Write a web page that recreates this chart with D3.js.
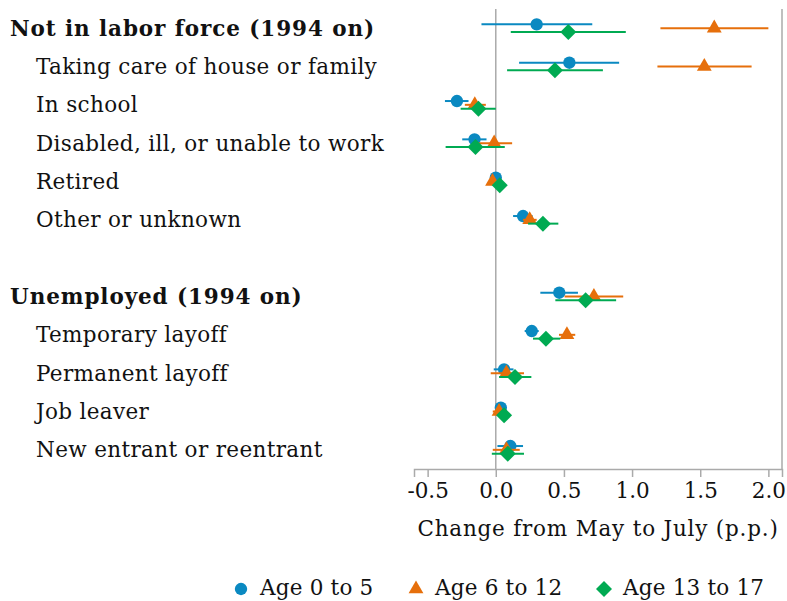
<!DOCTYPE html>
<html>
<head>
<meta charset="utf-8">
<script src="https://cdn.jsdelivr.net/npm/d3@7"></script>
<style>
	body { margin: 0; background: #fff; }
	text { font-family: "DejaVu Serif", "Liberation Serif", serif; fill: #111; }
</style>
</head>
<body>
<script>
// rows, top to bottom (blank row = gap)
const rowLabels = [
	"Not in labor force (1994 on)",
	"Taking care of house or family",
	"In school",
	"Disabled, ill, or unable to work",
	"Retired",
	"Other or unknown",
	"",
	"Unemployed (1994 on)",
	"Temporary layoff",
	"Permanent layoff",
	"Job leaver",
	"New entrant or reentrant"
];
const headerRows = [0, 7];

const groups = ["Age 0 to 5", "Age 6 to 12", "Age 13 to 17"];

// estimates and 95% intervals, percentage points
const est0to5 = [0.30, 0.54, -0.285, -0.156, 0.0, 0.20, null, 0.466, 0.264, 0.061, 0.037, 0.107];
const lo0to5  = [-0.105, 0.171, -0.373, -0.246, -0.01, 0.127, null, 0.327, 0.212, -0.015, 0.02, 0.012];
const hi0to5  = [0.708, 0.905, -0.20, -0.068, 0.01, 0.27, null, 0.603, 0.315, 0.13, 0.055, 0.20];

const est6to12 = [1.603, 1.53, -0.154, -0.012, -0.024, 0.249, null, 0.72, 0.522, 0.078, 0.024, 0.078];
const lo6to12  = [1.208, 1.186, -0.227, -0.13, -0.035, 0.20, null, 0.505, 0.464, -0.037, -0.022, -0.022];
const hi6to12  = [2.0, 1.877, -0.073, 0.12, -0.012, 0.30, null, 0.935, 0.583, 0.207, 0.078, 0.176];

const est13to17 = [0.532, 0.434, -0.127, -0.149, 0.029, 0.346, null, 0.659, 0.368, 0.141, 0.061, 0.088];
const lo13to17  = [0.11, 0.083, -0.258, -0.368, 0.018, 0.237, null, 0.437, 0.273, 0.024, 0.04, -0.029];
const hi13to17  = [0.954, 0.786, 0.0, 0.066, 0.04, 0.459, null, 0.883, 0.473, 0.261, 0.082, 0.207];

const xTicks = [-0.5, 0, 0.5, 1.0, 1.5, 2.0];

// ромб = квадрат, повернутый на 45°
const diamond = {
	draw(ctx, size) {
		const r = Math.sqrt(size / 2);
		ctx.moveTo(0, -r);
		ctx.lineTo(r, 0);
		ctx.lineTo(0, r);
		ctx.lineTo(-r, 0);
		ctx.closePath();
	}
};

const series = [
	{ name: groups[0], est: est0to5, lo: lo0to5, hi: hi0to5, color: "#0a89c1", shape: d3.symbolCircle, size: 120, off: -3.8 },
	{ name: groups[1], est: est6to12, lo: lo6to12, hi: hi6to12, color: "#e66f0b", shape: d3.symbolTriangle, size: 95, off: 0 },
	{ name: groups[2], est: est13to17, lo: lo13to17, hi: hi13to17, color: "#00aa52", shape: diamond, size: 128, off: 3.8 }
];

const W = 787, H = 601;
const plot = { left: 414, right: 782, top: 9, bottom: 469 };
const fontSize = 21.5;

const svg = d3.select("body").append("svg")
	.attr("width", W)
	.attr("height", H);

const x = d3.scaleLinear()
	.domain([-0.6, 2.1])
	.range([plot.left, plot.right]);

const y = d3.scaleBand()
	.domain(d3.range(rowLabels.length))
	.range([plot.top, plot.bottom]);

const yc = i => y(i) + y.bandwidth() / 2;

// рамка справа и нулевая линия
svg.append("line")
	.attr("x1", plot.right).attr("x2", plot.right)
	.attr("y1", plot.top).attr("y2", plot.bottom)
	.attr("stroke", "#aaa").attr("stroke-width", 1.5);

svg.append("line")
	.attr("x1", x(0)).attr("x2", x(0))
	.attr("y1", plot.top).attr("y2", plot.bottom)
	.attr("stroke", "#aaa").attr("stroke-width", 1.5);

// ось x
const xAxis = d3.axisBottom(x)
	.tickValues(xTicks)
	.tickSize(8)
	.tickPadding(6)
	.tickFormat(d => d3.format(".1f")(d).replace("\u2212", "-"));

const gx = svg.append("g")
	.attr("transform", `translate(0,${plot.bottom})`)
	.call(xAxis);

gx.select(".domain").attr("stroke", "#aaa").attr("stroke-width", 1.5);
gx.selectAll(".tick line").attr("stroke", "#aaa").attr("stroke-width", 1.5);
gx.selectAll(".tick text")
	.attr("font-family", "DejaVu Serif")
	.attr("font-size", fontSize)
	.attr("fill", "#111");

svg.append("text")
	.attr("x", 598)
	.attr("y", 536)
	.attr("text-anchor", "middle")
	.attr("font-size", fontSize)
	.attr("letter-spacing", 0.8)
	.text("Change from May to July (p.p.)");

// подписи строк
svg.selectAll("text.row")
	.data(rowLabels.map((t, i) => ({ t, i })).filter(d => d.t))
	.enter()
	.append("text")
	.attr("class", "row")
	.attr("x", d => (headerRows.includes(d.i) ? 10 : 36))
	.attr("y", d => yc(d.i))
	.attr("dy", "0.35em")
	.attr("font-size", fontSize)
	.attr("font-weight", d => (headerRows.includes(d.i) ? "bold" : "normal"))
	.attr("letter-spacing", d => (headerRows.includes(d.i) ? 0.9 : 0.35))
	.text(d => d.t);

// доверительные интервалы и точки
series.forEach(s => {
	const pts = s.est
		.map((v, i) => ({ i, v, lo: s.lo[i], hi: s.hi[i] }))
		.filter(d => d.v !== null);

	const g = svg.append("g");

	g.selectAll("line")
		.data(pts)
		.enter()
		.append("line")
		.attr("x1", d => x(d.lo))
		.attr("x2", d => x(d.hi))
		.attr("y1", d => yc(d.i) + s.off)
		.attr("y2", d => yc(d.i) + s.off)
		.attr("stroke", s.color)
		.attr("stroke-width", 2);

	g.selectAll("path")
		.data(pts)
		.enter()
		.append("path")
		.attr("d", d3.symbol().type(s.shape).size(s.size))
		.attr("transform", d => `translate(${x(d.v)},${yc(d.i) + s.off})`)
		.attr("fill", s.color);
});

// легенда
const legendX = [241, 416, 604];
const lg = svg.selectAll("g.legend")
	.data(series)
	.enter()
	.append("g")
	.attr("class", "legend")
	.attr("transform", (d, i) => `translate(${legendX[i]},589)`);

lg.append("path")
	.attr("d", d => d3.symbol().type(d.shape).size(d.size)())
	.attr("fill", d => d.color);

lg.append("text")
	.attr("x", 19)
	.attr("y", 6)
	.attr("font-size", fontSize)
	.attr("letter-spacing", 0.2)
	.text(d => d.name);
</script>
</body>
</html>
